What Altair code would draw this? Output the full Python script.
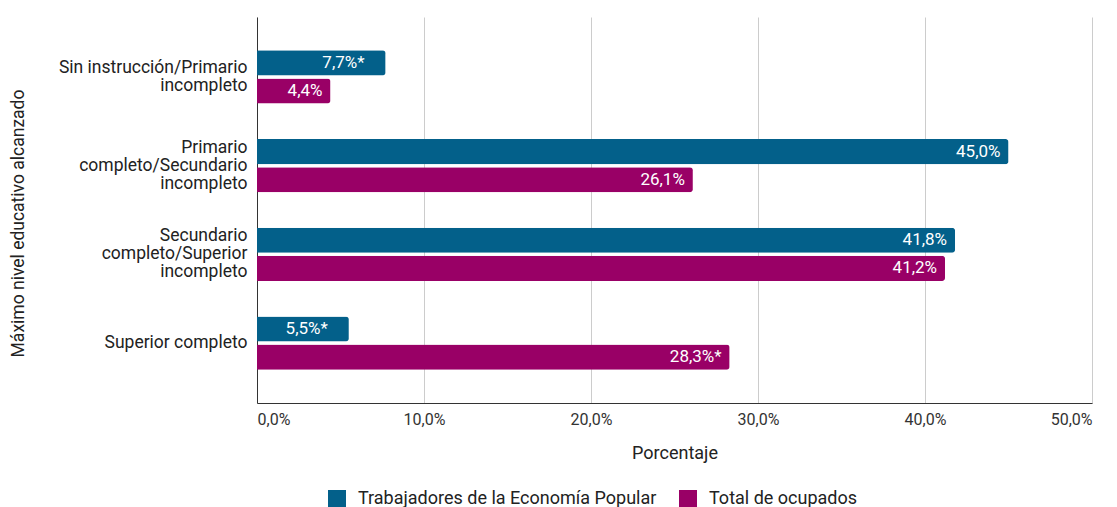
import altair as alt
import pandas as pd

categories = [
    "Sin instrucción/Primario|incompleto",
    "Primario|completo/Secundario|incompleto",
    "Secundario|completo/Superior|incompleto",
    "Superior completo",
]
series = ["Trabajadores de la Economía Popular", "Total de ocupados"]
tep_values = [7.7, 45.0, 41.8, 5.5]
tot_values = [4.4, 26.1, 41.2, 28.3]
tep_labels = ["7,7%*", "45,0%", "41,8%", "5,5%*"]
tot_labels = ["4,4%", "26,1%", "41,2%", "28,3%*"]
colors = ["#03608a", "#990066"]

rows = []
for i, c in enumerate(categories):
    rows.append({"cat": c, "serie": series[0], "v": tep_values[i], "lab": tep_labels[i]})
    rows.append({"cat": c, "serie": series[1], "v": tot_values[i], "lab": tot_labels[i]})
df = pd.DataFrame(rows)

FONT = "Roboto"

y_enc = alt.Y(
    "cat:N",
    sort=categories,
    scale=alt.Scale(paddingInner=0.4, paddingOuter=0.376),
    axis=alt.Axis(
        title="Máximo nivel educativo alcanzado",
        labelExpr="split(datum.label, '|')",
        labelFontSize=17.5,
        labelLineHeight=18,
        labelColor="#222222",
        labelPadding=10,
        labelOffset={
            "condition": [
                {"test": "length(split(datum.value, '|')) == 3", "value": -18},
                {"test": "length(split(datum.value, '|')) == 2", "value": -9},
            ],
            "value": 0,
        },
        ticks=False,
        domainColor="#333333",
        titleFontSize=17.5,
        titleFontWeight="normal",
        titleColor="#222222",
        titleX=-239,
        titleY=206,
        titleAngle=-90,
        titleAlign="center",
        titleBaseline="middle",
        labelLimit=400,
    ),
)
yoff = alt.YOffset("serie:N", sort=series, scale=alt.Scale(paddingInner=0.107, paddingOuter=0))
x_enc = alt.X(
    "v:Q",
    scale=alt.Scale(domain=[0, 50], nice=False),
    axis=alt.Axis(
        title="Porcentaje",
        values=[0, 10, 20, 30, 40, 50],
        labelExpr="replace(format(datum.value, '.1f'), '.', ',') + '%'",
        labelFontSize=16,
        labelColor="#333333",
        labelPadding=8,
        ticks=False,
        grid=True,
        gridColor="#cccccc",
        domainColor="#333333",
        titleFontSize=18,
        titleFontWeight="normal",
        titleColor="#222222",
        titleY=50,
        titleBaseline="middle",
    ),
)

bars = alt.Chart(df).mark_bar(cornerRadiusEnd=3).encode(
    x=x_enc,
    y=y_enc,
    yOffset=yoff,
    color=alt.Color(
        "serie:N",
        sort=series,
        scale=alt.Scale(domain=series, range=colors),
        legend=alt.Legend(
            title=None,
            orient="none",
            direction="horizontal",
            legendX=71,
            legendY=473,
            symbolType="square",
            symbolSize=324,
            symbolStrokeWidth=0,
            labelFontSize=18,
            labelColor="#222222",
            columnPadding=22,
            labelOffset=12,
            labelLimit=500,
        ),
    ),
)

base_text = alt.Chart(df).encode(
    x="v:Q",
    y=alt.Y("cat:N", sort=categories),
    yOffset=alt.YOffset("serie:N", sort=series),
    text="lab:N",
)

text_main = base_text.transform_filter(
    "datum.v >= 10 || indexof(datum.lab, '*') < 0"
).mark_text(align="right", baseline="middle", dx=-8, color="white", fontSize=17, font=FONT)

text_small_star = base_text.transform_filter(
    "datum.v < 10 && indexof(datum.lab, '*') >= 0"
).mark_text(align="right", baseline="middle", dx=-21, color="white", fontSize=17, font=FONT)

chart = alt.layer(bars, text_main, text_small_star).properties(
    width=835,
    height=386,
    autosize=alt.AutoSizeParams(type="none"),
    padding={"left": 257, "top": 17, "right": 25, "bottom": 104},
).configure(font=FONT).configure_view(stroke=None)

chart.save("out.html", embed_options={"renderer": "svg", "actions": False})
